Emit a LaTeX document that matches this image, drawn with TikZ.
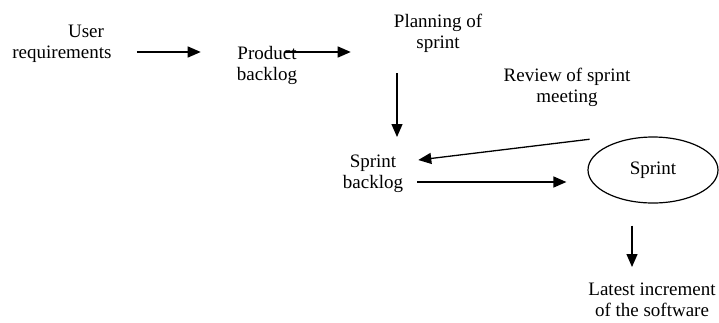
\documentclass[tikz,border=0pt]{standalone}
\usepackage{fontspec}
\setmainfont{Liberation Serif}
\usetikzlibrary{arrows.meta,shapes.geometric}

\begin{document}
\begin{tikzpicture}[x=1pt, y=-1pt,
  lbl/.style={align=center, inner sep=0, anchor=base, font=\fontsize{19}{21}\selectfont},
  arr/.style={line width=1.3pt, -{Triangle[length=13pt, width=11pt]}}]
  \useasboundingbox (0,0) rectangle (719,322);

  % labels
  \node[lbl] (user) at (62,58) {\hspace*{48pt}User\\requirements};
  \node[lbl] (product) at (267,80) {Product\\backlog};
  \node[lbl] (planning) at (438,48) {Planning of\\sprint};
  \node[lbl] (review) at (567,102) {Review of sprint\\meeting};
  \node[lbl] (sbacklog) at (373,188) {Sprint\\backlog};
  \node[lbl] (latest) at (652,316) {Latest increment\\of the software};

  % sprint
  \node[ellipse, draw, line width=1.2pt, minimum width=130pt, minimum height=66pt,
    inner sep=0, font=\fontsize{19}{21}\selectfont] (sprint) at (653,170) {Sprint};

  % arrows
  \draw[arr] ([shift={(25,-6)}]user.base east) -- ([shift={(-36,-28)}]product.base west);
  \draw[arr] ([shift={(-12,-28)}]product.base east) -- ([shift={(-43,4)}]planning.base west);
  \draw[arr] ([shift={(-41,25)}]planning.base) -- ([shift={(24,-51)}]sbacklog.base);
  \draw[arr] ([shift={(-17,-7)}]sprint.north west) -- ([shift={(15,-28)}]sbacklog.base east);
  \draw[arr] ([shift={(14,-6)}]sbacklog.base east) -- ([shift={(-21,12)}]sprint.west);
  \draw[arr] ([shift={(-21,22)}]sprint.south) -- ([shift={(-20,-49)}]latest.base);
\end{tikzpicture}
\end{document}
